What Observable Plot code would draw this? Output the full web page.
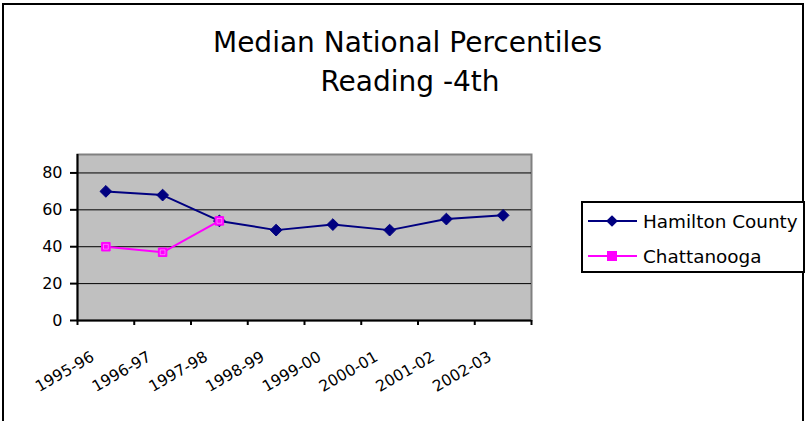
<!DOCTYPE html>
<html>
<head>
<meta charset="utf-8">
<script src="https://cdn.jsdelivr.net/npm/d3@7"></script>
<script src="https://cdn.jsdelivr.net/npm/@observablehq/plot@0.6"></script>
<style>
  html, body { margin: 0; padding: 0; background: #fff; }
  body { position: relative; width: 807px; height: 421px; overflow: hidden; font-family: "DejaVu Sans", sans-serif; }
  #chart { position: absolute; left: 0; top: 0; }
  .border { position: absolute; left: 2px; top: 3px; width: 802px; height: 440px; box-sizing: border-box; border: 2px solid #000; }
  .title { position: absolute; left: 0; font-size: 28px; line-height: 30px; text-align: center; color: #000; white-space: pre; }
  #legend { position: absolute; left: 0; top: 0; }
</style>
</head>
<body>
<div class="border"></div>
<div class="title" style="top:28px; width:815px;">Median National Percentiles</div>
<div class="title" style="top:67px; width:820px;">Reading -4th</div>
<div id="chart"></div>
<svg id="legend" width="807" height="421"></svg>
<script>
const years = ["1995-96","1996-97","1997-98","1998-99","1999-00","2000-01","2001-02","2002-03"];
const hamilton = [70, 68, 54, 49, 52, 49, 55, 57];
const chattanooga = [40, 37, 54];
const yTicks = [0, 20, 40, 60, 80];
const seriesNames = ["Hamilton County", "Chattanooga"];
const seriesColors = ["#000080", "#FF00FF"];

const hData = hamilton.map((v, i) => ({i: i + 0.5, v}));
const cData = chattanooga.map((v, i) => ({i: i + 0.5, v}));

const plot = Plot.plot({
  width: 807,
  height: 421,
  marginLeft: 77,
  marginRight: 276,
  marginTop: 154,
  marginBottom: 101,
  style: {fontFamily: "DejaVu Sans, sans-serif", fontSize: "16px", color: "#000", background: "transparent", overflow: "visible"},
  x: {domain: [0, years.length], axis: null},
  y: {domain: [0, 90], axis: null},
  marks: [
    Plot.frame({fill: "#C0C0C0", stroke: "#808080", strokeWidth: 2}),
    Plot.ruleY(yTicks.filter(d => d > 0), {stroke: "#000", strokeWidth: 1}),
    Plot.ruleX([0], {stroke: "#000", strokeWidth: 2}),
    Plot.ruleY([0], {stroke: "#000", strokeWidth: 2}),
    Plot.axisY(yTicks, {tickSize: 7, tickPadding: 8, fontSize: 16, strokeWidth: 2, fill: "#000", label: null}),
    Plot.axisX(d3.range(years.length + 1), {tickSize: 5, tickFormat: () => "", strokeWidth: 2, label: null}),
    Plot.axisX(d3.range(years.length).map(i => i + 0.5), {
      tickSize: 0, tickPadding: 35, tickRotate: -30, dx: -13,
      tickFormat: d => years[Math.floor(d)], fontSize: 15.5, fill: "#000", label: null
    }),
    Plot.line(hData, {x: "i", y: "v", stroke: seriesColors[0], strokeWidth: 2}),
    Plot.dot(hData, {x: "i", y: "v", symbol: "diamond2", r: 5.3, fill: seriesColors[0], stroke: seriesColors[0], strokeWidth: 1}),
    Plot.line(cData, {x: "i", y: "v", stroke: seriesColors[1], strokeWidth: 2}),
    Plot.dot(cData, {x: "i", y: "v", symbol: "square", r: 4.8, fill: seriesColors[1], stroke: seriesColors[1], strokeWidth: 1}),
    Plot.dot(cData, {x: "i", y: "v", symbol: "square", r: 2.7, fill: "none", stroke: "#ffffff", strokeOpacity: 0.5, strokeWidth: 0.8})
  ]
});
document.getElementById("chart").appendChild(plot);

// Legend
const lg = d3.select("#legend");
lg.append("rect").attr("x", 582).attr("y", 202).attr("width", 222).attr("height", 70)
  .attr("fill", "#fff").attr("stroke", "#000").attr("stroke-width", 2);
const rowsY = [221, 256];
seriesNames.forEach((name, k) => {
  const y = rowsY[k];
  lg.append("line").attr("x1", 588).attr("x2", 637).attr("y1", y).attr("y2", y)
    .attr("stroke", seriesColors[k]).attr("stroke-width", 2);
  if (k === 0) {
    lg.append("path").attr("d", d3.symbol(d3.symbolDiamond2, Math.PI * 28)())
      .attr("transform", `translate(612,${y})`).attr("fill", seriesColors[k]);
  } else {
    lg.append("rect").attr("x", 607.5).attr("y", y - 4.5).attr("width", 9).attr("height", 9)
      .attr("fill", seriesColors[k]).attr("stroke", seriesColors[k]);
  }
  lg.append("text").attr("x", 643).attr("y", y + 7).attr("font-size", 18.4)
    .attr("font-family", "DejaVu Sans, sans-serif").attr("fill", "#000").text(name);
});
</script>
</body>
</html>
